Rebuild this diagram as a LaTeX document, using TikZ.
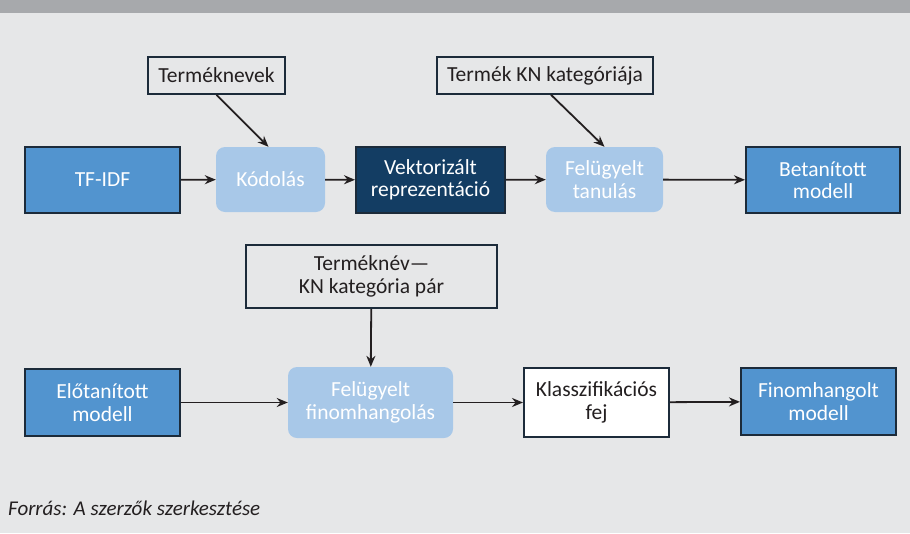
\documentclass[tikz,border=0pt]{standalone}
\usepackage{fontspec}
\setmainfont{Carlito}
\usetikzlibrary{arrows.meta}
\definecolor{bgc}{HTML}{E6E7E8}
\definecolor{bandc}{HTML}{A7A9AC}
\definecolor{bluec}{HTML}{5294CF}
\definecolor{navyc}{HTML}{133D63}
\definecolor{lightc}{HTML}{A8C8E8}
\definecolor{edgec}{HTML}{1C2B3A}
\definecolor{inkc}{HTML}{231F20}
\tikzset{
  box/.style={draw=edgec, line width=2pt, inner sep=0pt, align=center,
    font=\fontsize{21.5}{22.5}\selectfont},
  bluebox/.style={box, fill=bluec, text=white},
  navybox/.style={box, fill=navyc, text=white},
  softbox/.style={inner sep=0pt, align=center, fill=lightc, text=white, rounded corners=9pt,
    font=\fontsize{21.5}{22.5}\selectfont},
  inbox/.style={box, fill=bgc, text=inkc, line width=1.6pt},
  whitebox/.style={box, fill=white, text=inkc},
  arr/.style={draw=inkc, line width=1.8pt, -{Stealth[length=11pt,width=9pt]}}
}
\begin{document}
\begin{tikzpicture}[x=1pt,y=-1pt]
\useasboundingbox (0,0) rectangle (910,533);
\fill[bgc] (0,0) rectangle (910,533);
\fill[bandc] (0,0) rectangle (910,13);

\node[inbox, minimum width=137pt, minimum height=37pt] (tn) at (216.5,75.5) {Terméknevek};
\node[inbox, minimum width=216pt, minimum height=37pt] (tkn) at (545,75.5) {Termék KN kategóriája};

\node[bluebox, minimum width=155pt, minimum height=66pt] (tfidf) at (102.5,180) {TF-IDF};
\node[softbox, minimum width=109pt, minimum height=65pt] (kod) at (270.5,179.5) {Kódolás};
\node[navybox, minimum width=149pt, minimum height=66pt] (vek) at (430.5,180) {Vektorizált\\reprezentáció};
\node[softbox, minimum width=117pt, minimum height=65pt] (fel) at (604.5,179.5) {Felügyelt\\tanulás};
\node[bluebox, minimum width=154pt, minimum height=66pt] (bet) at (823,180) {Betanított\\modell};

\node[inbox, minimum width=251pt, minimum height=63pt] (pair) at (371.5,276.5) {Terméknév—\\KN kategória pár};

\node[bluebox, minimum width=155pt, minimum height=67pt] (elo) at (102.5,402.5) {Előtanított\\modell};
\node[softbox, minimum width=165pt, minimum height=71pt] (ffin) at (370.5,402.5) {Felügyelt\\finomhangolás};
\node[whitebox, minimum width=145pt, minimum height=69pt] (kla) at (596.5,402.5) {Klasszifikációs\\fej};
\node[bluebox, minimum width=155pt, minimum height=67pt] (fino) at (818.5,401.5) {Finomhangolt\\modell};

\draw[arr] (tn.south) -- ([xshift=-2pt]kod.north);
\draw[arr] ([xshift=6pt]tkn.south) -- (fel.north);
\draw[arr] (tfidf) -- (kod);
\draw[arr] (kod) -- (vek);
\draw[arr] (vek) -- (fel);
\draw[arr] (fel) -- (bet);
\draw[arr] (pair) -- (ffin);
\draw[arr] (elo) -- (ffin);
\draw[arr] (ffin) -- (kla);
\draw[arr] (kla) -- (fino);

\node[anchor=base west, inner sep=0pt, text=inkc, font=\fontsize{21}{22}\selectfont\itshape] (src) at (8,515) {Forrás: A szerzők szerkesztése};
\end{tikzpicture}
\end{document}
